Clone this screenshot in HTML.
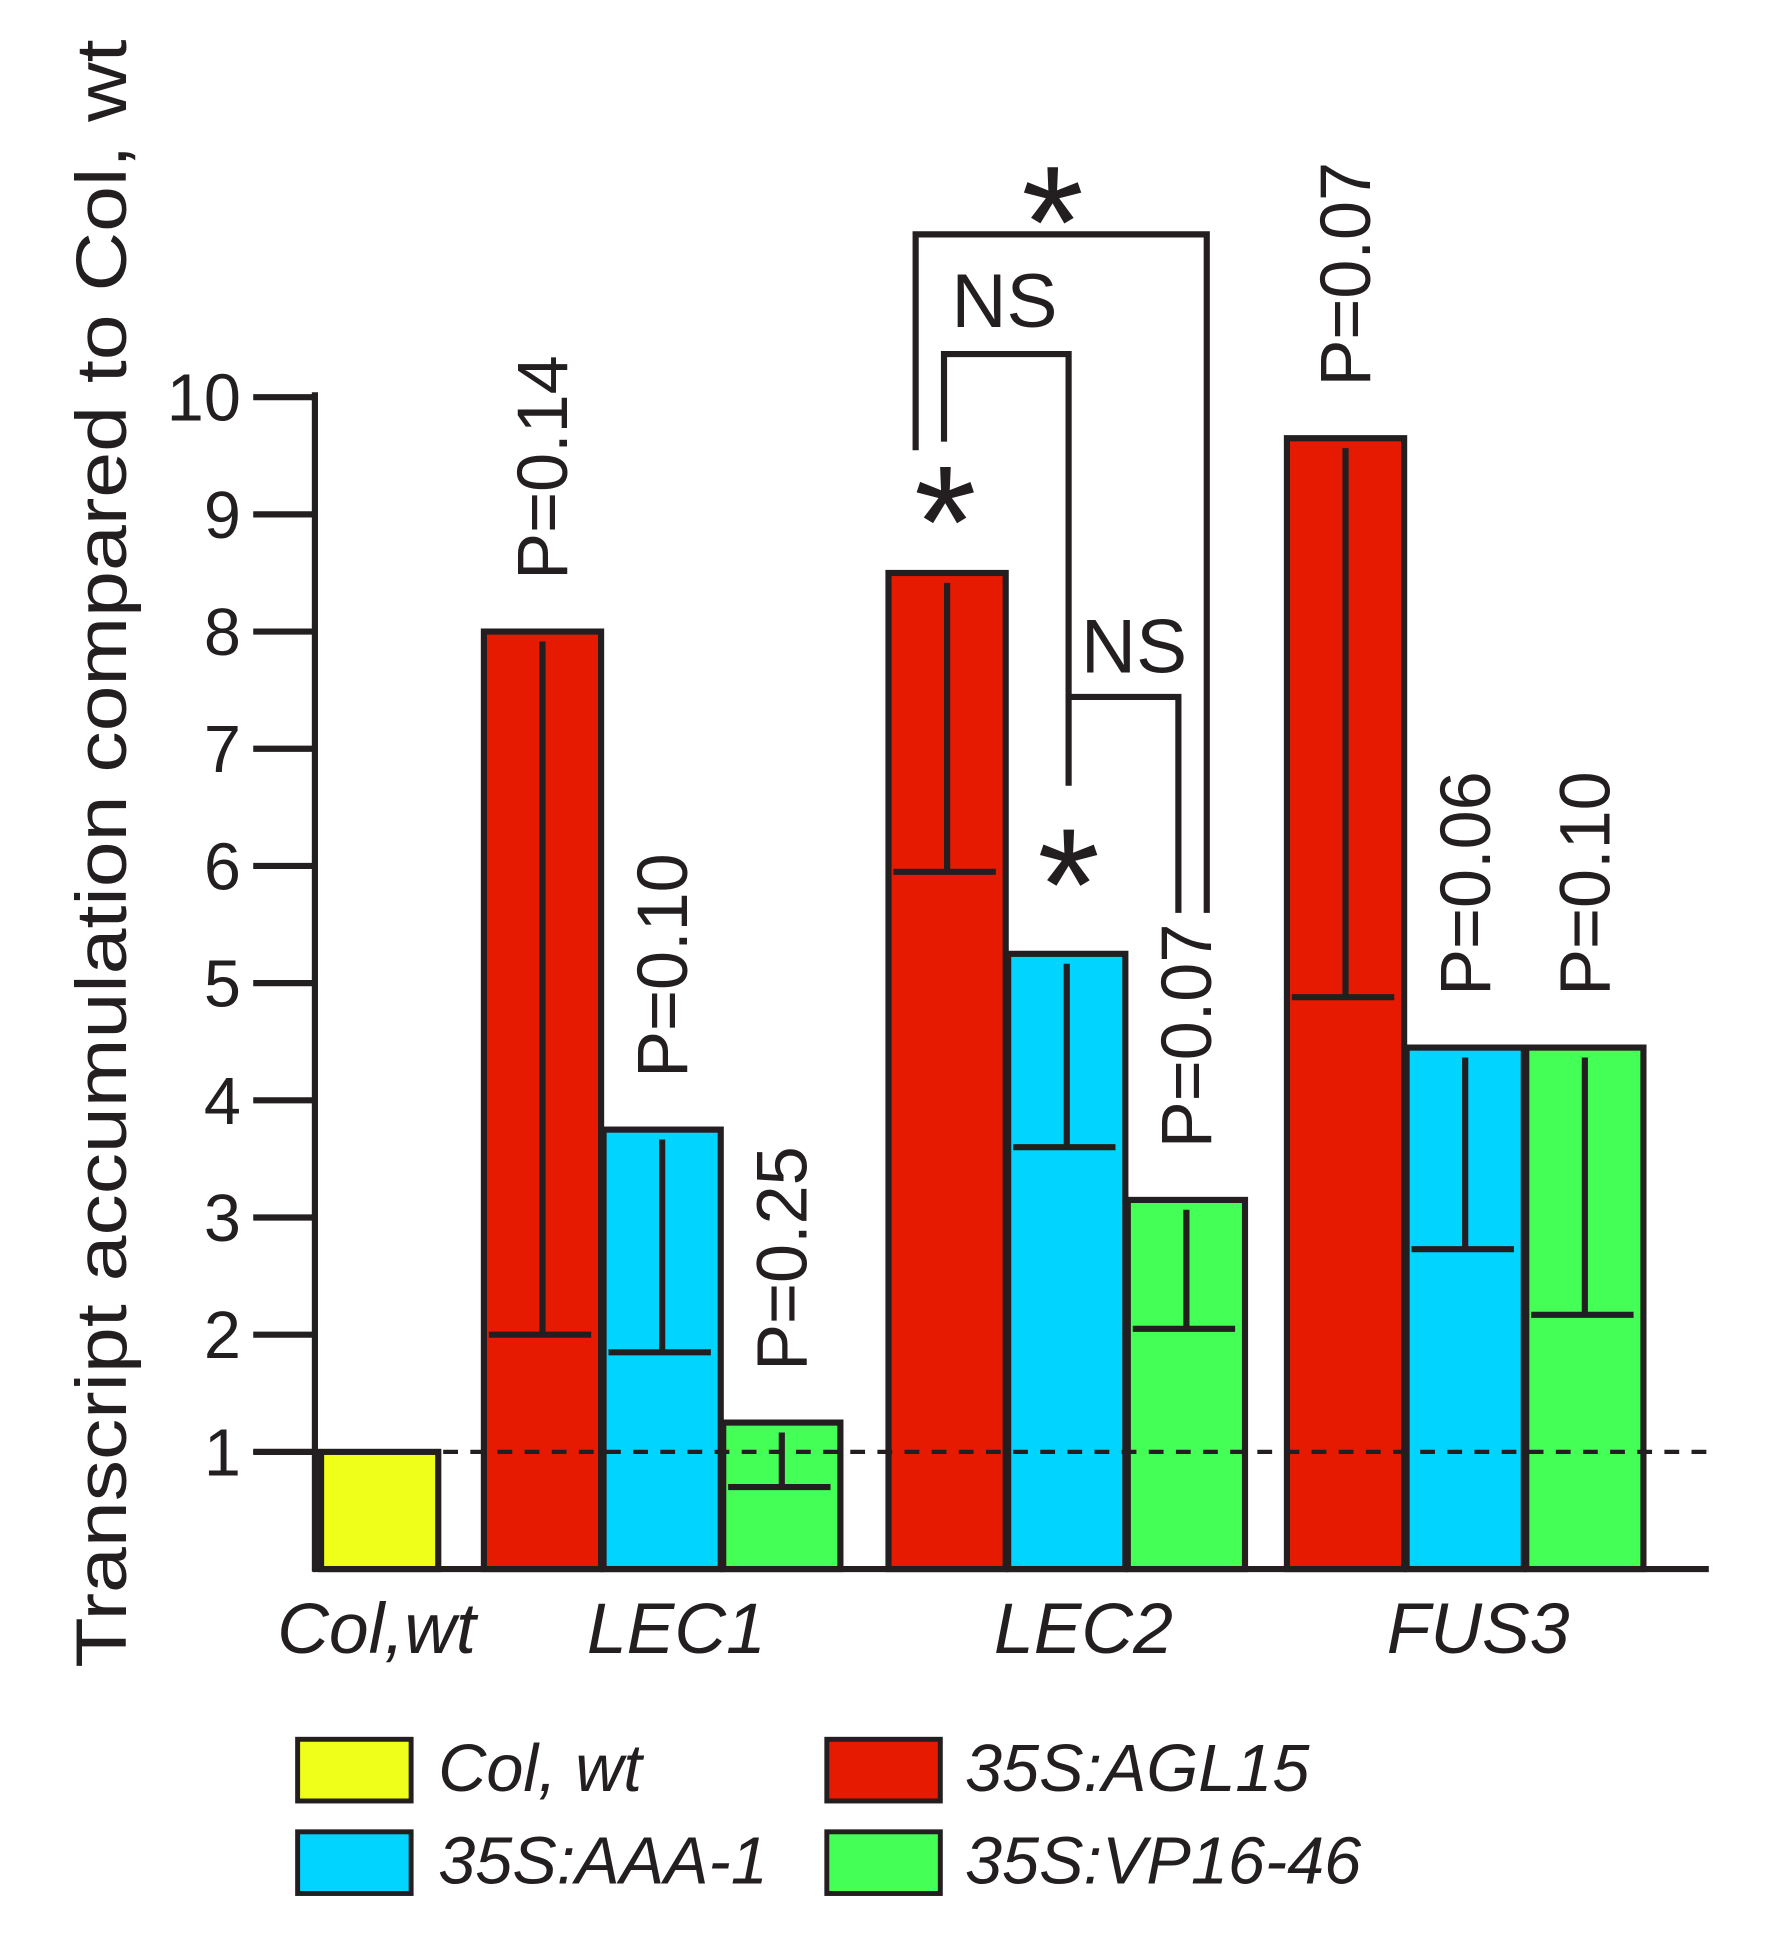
<!DOCTYPE html>
<html><head><meta charset="utf-8"><style>
html,body{margin:0;padding:0;background:#fff;}
svg{display:block;font-family:"Liberation Sans",sans-serif;}
</style></head><body>
<svg id="chart" width="1777" height="1949" viewBox="0 0 1440 1580" xmlns="http://www.w3.org/2000/svg">
<text transform="translate(102,692) rotate(-90)" text-anchor="middle" font-size="58" textLength="1320" lengthAdjust="spacingAndGlyphs" fill="#231f20">Transcript accumulation compared to Col, wt</text>
<g id="ticks"></g>
<g id="bars"></g>
<line x1="205" y1="1177" x2="1385" y2="1177" stroke="#231f20" stroke-width="3.5" stroke-dasharray="12,10"/>
<line x1="255" y1="318" x2="255" y2="1274" stroke="#231f20" stroke-width="5"/>
<line x1="253" y1="1272" x2="1385" y2="1272" stroke="#231f20" stroke-width="5"/>
<g fill="none" stroke="#231f20" stroke-width="5">
<polyline points="742,365 742,190 978,190 978,740"/>
<polyline points="765,358 765,287 866,287 866,637"/>
<polyline points="866,565 955,565 955,740"/>
</g>
<g font-size="130" fill="#231f20" text-anchor="middle">
<text x="853" y="225">*</text>
<text x="766" y="468">*</text>
<text x="866" y="762">*</text>
</g>
<text x="814" y="265" font-size="62" text-anchor="middle" fill="#231f20">NS</text>
<text x="919" y="545" font-size="62" text-anchor="middle" fill="#231f20">NS</text>
<g id="xlabels" font-size="58" font-style="italic" text-anchor="middle" fill="#231f20"></g>
<g font-size="54" font-style="italic" fill="#231f20" stroke-width="4">
<rect x="241" y="1410" width="92" height="50" fill="#f0ff1a" stroke="#231f20"/>
<text x="355" y="1452">Col, wt</text>
<rect x="670" y="1410" width="92" height="50" fill="#e51a00" stroke="#231f20"/>
<text x="782" y="1452">35S:AGL15</text>
<rect x="241" y="1485" width="92" height="50" fill="#00d4ff" stroke="#231f20"/>
<text x="355" y="1527">35S:AAA-1</text>
<rect x="670" y="1485" width="92" height="50" fill="#44ff55" stroke="#231f20"/>
<text x="782" y="1527">35S:VP16-46</text>
</g>
</svg>
<script>
const yTicks = [1,2,3,4,5,6,7,8,9,10];
const barNames = ["colwt","lec1-agl15","lec1-aaa1","lec1-vp16","lec2-agl15","lec2-aaa1","lec2-vp16","fus3-agl15","fus3-aaa1","fus3-vp16"];
const barValues = [1.0,8.0,3.75,1.25,8.5,5.25,3.15,9.65,4.45,4.45];
const errLow = [null,2.0,1.85,0.7,5.95,3.6,2.05,4.88,2.73,2.17];
const pLabels = ["","P=0.14","P=0.10","P=0.25","","","P=0.07","P=0.07","P=0.06","P=0.10"];
const groups = ["Col,wt","LEC1","LEC2","FUS3"];
const barGroup = [0,1,1,1,2,2,2,3,3,3];
const barSeries = [0,1,2,3,1,2,3,1,2,3];
const colors = ["#f0ff1a","#e51a00","#00d4ff","#44ff55"];
const NS="http://www.w3.org/2000/svg";
function y(v){return 1272-95*v;}
const groupStart=[260,392,720,1043];
const barW=97;
function bx(i){const g=barGroup[i];let k=0;for(let j=0;j<i;j++)if(barGroup[j]===g)k++;return groupStart[g]+k*barW;}
function mk(tag,attrs,parent){const e=document.createElementNS(NS,tag);for(const a in attrs)e.setAttribute(a,attrs[a]);parent.appendChild(e);return e;}
const tg=document.getElementById('ticks');
yTicks.forEach(t=>{
  const l=mk('line',{x1:205,x2:255,y1:y(t),y2:y(t),stroke:'#231f20','stroke-width':5},tg);
  
  
  const tx=mk('text',{x:195,y:y(t)+19,'text-anchor':'end','font-size':54,fill:'#231f20'},tg);
  tx.textContent=t;
  
  
});
const bg=document.getElementById('bars');
barValues.forEach((v,i)=>{
  const x=bx(i);
  const r=mk('rect',{x:x,y:y(v),width:barW-2,height:y(0)-y(v),fill:colors[barSeries[i]],stroke:'#231f20','stroke-width':5},bg);
  
  
  if(errLow[i]!==null){
    const cx=x+(barW-2)/2;
    const e=mk('path',{d:`M${cx},${y(v)+8}V${y(errLow[i])}M${x+4},${y(errLow[i])}H${x+barW-10}`,stroke:'#231f20','stroke-width':5,fill:'none'},bg);
    
    
  }
  if(pLabels[i]){
    const cx=x+(barW-2)/2+20;
    const by=y(v)-42;
    const p=mk('text',{transform:`translate(${cx},${by}) rotate(-90)`,'font-size':58,textLength:182,lengthAdjust:'spacingAndGlyphs',fill:'#231f20'},bg);
    p.textContent=pLabels[i];
    
    
  }
});
const xg=document.getElementById('xlabels');
const groupCenters=[305,548,878,1198];
groups.forEach((g,i)=>{
  const t=mk('text',{x:groupCenters[i],y:1340},xg);
  t.textContent=g;
  
  
});
</script>
</body></html>
